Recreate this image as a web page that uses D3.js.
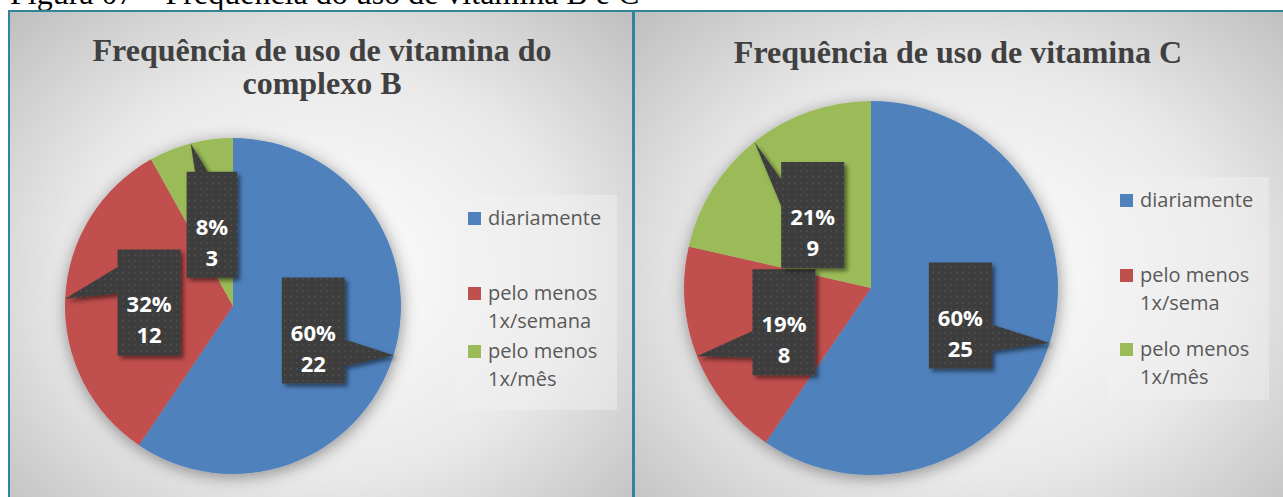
<!DOCTYPE html>
<html>
<head>
<meta charset="utf-8">
<script src="https://cdn.jsdelivr.net/npm/d3@7"></script>
<style>
body { margin: 0; background: #fff; overflow: hidden; }
</style>
</head>
<body>
<svg id="main" width="1283" height="497"></svg>
<script>
// data
var categories = ["diariamente", "pelo menos 1x/semana", "pelo menos 1x/mês"];
var colors = ["#4F81BD", "#C0504D", "#9BBB59"];

var valuesB = [22, 12, 3];
var percentB = ["60%", "32%", "8%"];
var legendB = [["diariamente"], ["pelo menos", "1x/semana"], ["pelo menos", "1x/mês"]];

var valuesC = [25, 8, 9];
var percentC = ["60%", "19%", "21%"];
var legendC = [["diariamente"], ["pelo menos", "1x/sema"], ["pelo menos", "1x/mês"]];

var caption = "Figura 07 – Frequência do uso de vitamina B e C";

var svg = d3.select("#main");
var defs = svg.append("defs");

// background gradient for the chart areas
var grad = defs.append("radialGradient").attr("id", "bg")
    .attr("cx", "50%").attr("cy", "50%").attr("r", "72%");
grad.append("stop").attr("offset", "0%").attr("stop-color", "#ffffff");
grad.append("stop").attr("offset", "55%").attr("stop-color", "#e9e9e9");
grad.append("stop").attr("offset", "100%").attr("stop-color", "#bdbdbd");

var f1 = defs.append("filter").attr("id", "pieShadow")
    .attr("x", "-20%").attr("y", "-20%").attr("width", "140%").attr("height", "140%");
f1.append("feDropShadow").attr("dx", 1).attr("dy", 3).attr("stdDeviation", 8)
    .attr("flood-color", "#000").attr("flood-opacity", 0.4);

var f2 = defs.append("filter").attr("id", "boxShadow")
    .attr("x", "-20%").attr("y", "-20%").attr("width", "150%").attr("height", "150%");
f2.append("feDropShadow").attr("dx", 3).attr("dy", 3).attr("stdDeviation", 2)
    .attr("flood-color", "#000").attr("flood-opacity", 0.5);

var pat = defs.append("pattern").attr("id", "dots")
    .attr("width", 6).attr("height", 6).attr("patternUnits", "userSpaceOnUse");
pat.append("rect").attr("width", 6).attr("height", 6).attr("fill", "#3d3d3d");
pat.append("circle").attr("cx", 3).attr("cy", 3).attr("r", 0.9).attr("fill", "#4f4f4f");

// caption, cut off at the top like the screenshot
svg.append("text")
    .attr("x", 10).attr("y", 4)
    .attr("font-family", "Liberation Serif, Times New Roman, serif")
    .attr("font-size", "32px")
    .attr("fill", "#000")
    .text(caption);

// rectangle with a wedge pointing at (tx, ty), like the office callout shape
function calloutPath(x0, y0, w, h, tx, ty)
{
    var x1 = x0 + w, y1 = y0 + h;
    var cx = x0 + w / 2, cy = y0 + h / 2;
    var dx = tx - cx, dy = ty - cy;
    var pts;
    var lo = 2 / 12, hi = 5 / 12;
    if (Math.abs(dx) / w > Math.abs(dy) / h) {
        var a1 = dy < 0 ? lo : 7 / 12, a2 = dy < 0 ? hi : 10 / 12;
        if (dx > 0)
            pts = [[x0, y0], [x1, y0], [x1, y0 + h * a1], [tx, ty], [x1, y0 + h * a2], [x1, y1], [x0, y1]];
        else
            pts = [[x0, y0], [x1, y0], [x1, y1], [x0, y1], [x0, y0 + h * a2], [tx, ty], [x0, y0 + h * a1]];
    } else {
        var b1 = dx < 0 ? lo : 7 / 12, b2 = dx < 0 ? hi : 10 / 12;
        if (dy < 0)
            pts = [[x0, y0], [x0 + w * b1, y0], [tx, ty], [x0 + w * b2, y0], [x1, y0], [x1, y1], [x0, y1]];
        else
            pts = [[x0, y0], [x1, y0], [x1, y1], [x0 + w * b2, y1], [tx, ty], [x0 + w * b1, y1], [x0, y1]];
    }
    return "M" + pts.map(function(p) { return p[0] + "," + p[1]; }).join("L") + "Z";
}

function drawChart(o)
{
    var g = svg.append("g");

    g.append("rect")
        .attr("x", o.x).attr("y", o.y).attr("width", o.w).attr("height", o.h)
        .attr("fill", "url(#bg)")
        .attr("stroke", "#31849B").attr("stroke-width", 2);

    // title
    var title = g.append("text")
        .attr("text-anchor", "middle")
        .attr("font-family", "Liberation Serif, Times New Roman, serif")
        .attr("font-weight", "bold")
        .attr("font-size", "32px")
        .attr("fill", "#404040");
    o.title.forEach(function(line, i) {
        title.append("tspan").attr("x", o.titleX).attr("y", o.titleY + i * 33).text(line);
    });

    // pie
    var pie = d3.pie().sort(null).value(function(d) { return d; });
    var arcs = pie(o.values);
    var arc = d3.arc().innerRadius(0).outerRadius(o.r);
    var labelArc = d3.arc().innerRadius(0).outerRadius(o.r);
    var tipArc = d3.arc().innerRadius(o.r).outerRadius(o.r);

    var pg = g.append("g")
        .attr("transform", "translate(" + o.cx + "," + o.cy + ")")
        .attr("filter", "url(#pieShadow)");
    pg.selectAll("path")
        .data(arcs)
        .enter().append("path")
        .attr("d", arc)
        .attr("fill", function(d, i) { return colors[i]; });

    // callout labels
    arcs.forEach(function(a, i) {
        var c = labelArc.centroid(a);
        var t = tipArc.centroid(a);
        var lx = o.cx + c[0], ly = o.cy + c[1];
        var lg = g.append("g");
        var box = lg.append("path")
            .attr("fill", "url(#dots)")
            .attr("filter", "url(#boxShadow)");
        var t1 = lg.append("text")
            .attr("x", lx).attr("y", ly + 10)
            .attr("text-anchor", "middle")
            .attr("font-family", "Open Sans, sans-serif")
            .attr("font-weight", "bold")
            .attr("font-size", "22px")
            .attr("fill", "#fff")
            .text(o.percents[i]);
        var t2 = lg.append("text")
            .attr("x", lx).attr("y", ly + 41)
            .attr("text-anchor", "middle")
            .attr("font-family", "Open Sans, sans-serif")
            .attr("font-weight", "bold")
            .attr("font-size", "22px")
            .attr("fill", "#fff")
            .text(o.values[i]);
        var bw = Math.max(t1.node().getComputedTextLength(), t2.node().getComputedTextLength()) + 18;
        var bh = 106;
        box.attr("d", calloutPath(lx - bw / 2, ly - bh / 2, bw, bh, o.cx + t[0], o.cy + t[1]));
    });

    // legend
    var lb = o.legendBox;
    g.append("rect")
        .attr("x", lb[0]).attr("y", lb[1]).attr("width", lb[2]).attr("height", lb[3])
        .attr("fill", "#f2f2f2").attr("fill-opacity", 0.45);
    o.legend.forEach(function(lines, i) {
        var by = o.legendRows[i];
        g.append("rect")
            .attr("x", o.legendX).attr("y", by - 13)
            .attr("width", 13).attr("height", 13)
            .attr("fill", colors[i]);
        var tx = g.append("text")
            .attr("font-family", "Open Sans, sans-serif")
            .attr("font-size", "20px")
            .attr("fill", "#595959");
        lines.forEach(function(line, j) {
            tx.append("tspan").attr("x", o.legendX + 20).attr("y", by + j * 28).text(line);
        });
    });
}

drawChart({
    x: 9, y: 11, w: 624, h: 520,
    title: ["Frequência de uso de vitamina do", "complexo B"],
    titleX: 322, titleY: 61,
    cx: 233, cy: 306, r: 168,
    values: valuesB, percents: percentB,
    legend: legendB,
    legendBox: [455, 195, 162, 215],
    legendX: 468,
    legendRows: [225, 300, 358]
});

drawChart({
    x: 634, y: 11, w: 660, h: 520,
    title: ["Frequência de uso de vitamina C"],
    titleX: 958, titleY: 63,
    cx: 871, cy: 288, r: 187,
    values: valuesC, percents: percentC,
    legend: legendC,
    legendBox: [1107, 177, 162, 223],
    legendX: 1120,
    legendRows: [207, 282, 356]
});
</script>
</body>
</html>
